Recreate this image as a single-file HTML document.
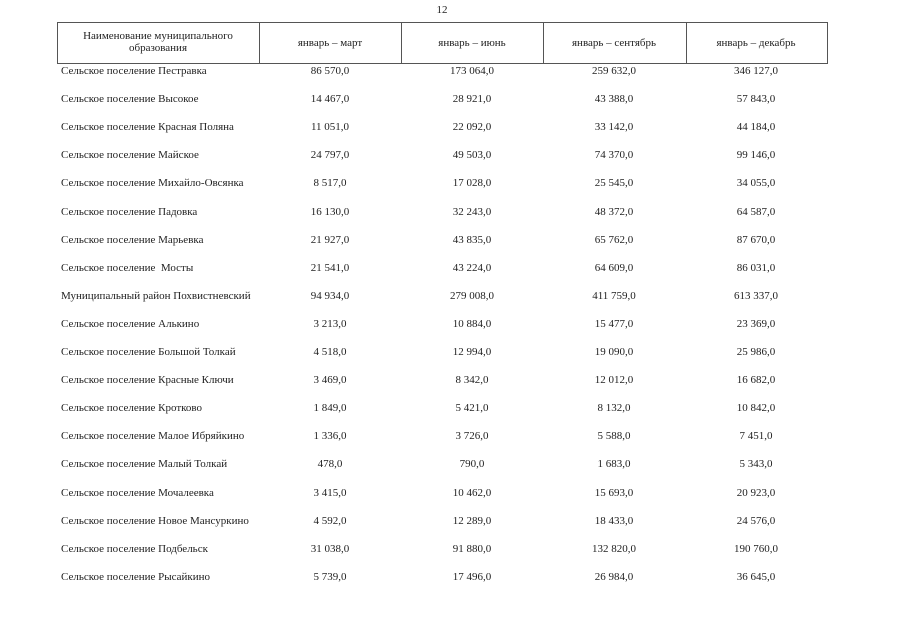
<!DOCTYPE html>
<html><head><meta charset="utf-8"><style>
body{margin:0;width:905px;height:640px;background:#fff;position:relative;font-family:"Liberation Serif",serif;color:#222;overflow:hidden}
.t{position:absolute;font-size:11px;white-space:nowrap;line-height:12px}
.c{transform:translateX(-50%);text-align:center}
.box{position:absolute;left:57px;top:22px;width:769px;height:40px;border:1px solid #555}
.v{position:absolute;top:22px;height:42px;width:1px;background:#555}
</style></head><body>
<div class="t c" style="left:442px;top:4px">12</div>
<div class="box"></div>
<div class="v" style="left:259px"></div>
<div class="v" style="left:401px"></div>
<div class="v" style="left:543px"></div>
<div class="v" style="left:686px"></div>
<div class="t c" style="left:158px;top:30px">Наименование муниципального<br>образования</div>
<div class="t c" style="left:330px;top:37px">январь – март</div>
<div class="t c" style="left:472px;top:37px">январь – июнь</div>
<div class="t c" style="left:614px;top:37px">январь – сентябрь</div>
<div class="t c" style="left:756px;top:37px">январь – декабрь</div>
<div id="rows"></div>
<script>
var d=[["Сельское поселение Пестравка","86 570,0","173 064,0","259 632,0","346 127,0"],
["Сельское поселение Высокое","14 467,0","28 921,0","43 388,0","57 843,0"],
["Сельское поселение Красная Поляна","11 051,0","22 092,0","33 142,0","44 184,0"],
["Сельское поселение Майское","24 797,0","49 503,0","74 370,0","99 146,0"],
["Сельское поселение Михайло-Овсянка","8 517,0","17 028,0","25 545,0","34 055,0"],
["Сельское поселение Падовка","16 130,0","32 243,0","48 372,0","64 587,0"],
["Сельское поселение Марьевка","21 927,0","43 835,0","65 762,0","87 670,0"],
["Сельское поселение &nbsp;Мосты","21 541,0","43 224,0","64 609,0","86 031,0"],
["Муниципальный район Похвистневский","94 934,0","279 008,0","411 759,0","613 337,0"],
["Сельское поселение Алькино","3 213,0","10 884,0","15 477,0","23 369,0"],
["Сельское поселение Большой Толкай","4 518,0","12 994,0","19 090,0","25 986,0"],
["Сельское поселение Красные Ключи","3 469,0","8 342,0","12 012,0","16 682,0"],
["Сельское поселение Кротково","1 849,0","5 421,0","8 132,0","10 842,0"],
["Сельское поселение Малое Ибряйкино","1 336,0","3 726,0","5 588,0","7 451,0"],
["Сельское поселение Малый Толкай","478,0","790,0","1 683,0","5 343,0"],
["Сельское поселение Мочалеевка","3 415,0","10 462,0","15 693,0","20 923,0"],
["Сельское поселение Новое Мансуркино","4 592,0","12 289,0","18 433,0","24 576,0"],
["Сельское поселение Подбельск","31 038,0","91 880,0","132 820,0","190 760,0"],
["Сельское поселение Рысайкино","5 739,0","17 496,0","26 984,0","36 645,0"]];
var h="",xs=[330,472,614,756];
d.forEach(function(r,i){var y=65+i*28.1;
h+='<div class="t" style="left:61px;top:'+y+'px">'+r[0]+'</div>';
for(var k=0;k<4;k++)h+='<div class="t c" style="left:'+xs[k]+'px;top:'+y+'px">'+r[k+1]+'</div>';});
document.getElementById("rows").innerHTML=h;
</script>
</body></html>
